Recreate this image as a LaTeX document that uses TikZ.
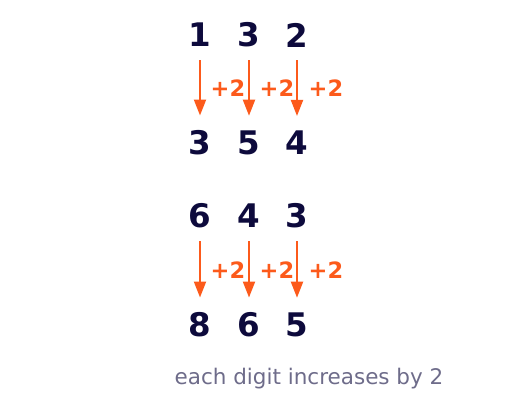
\documentclass[tikz,border=0pt]{standalone}
\usepackage{fontspec}
\setmainfont{DejaVu Sans}
\usetikzlibrary{arrows.meta}
\definecolor{navy}{HTML}{0D0A3C}
\definecolor{orng}{HTML}{FC5A1B}
\definecolor{capgray}{HTML}{6E6C8A}
\begin{document}
\begin{tikzpicture}[x=1pt,y=-1pt,
  digit/.style={inner sep=0pt,font=\fontsize{32.5}{32.5}\selectfont\bfseries,text=navy},
  plus/.style={inner sep=0pt,font=\fontsize{22.5}{22.5}\selectfont\bfseries,text=orng},
  incr/.style={draw=orng,line width=2pt,-{Triangle[length=16pt,width=12pt]},shorten <=13pt,shorten >=15pt},
  caption/.style={inner sep=0pt,font=\fontsize{21.5}{21.5}\selectfont,text=capgray}]
\useasboundingbox (0,0) rectangle (520,412);
% group 1
\node[digit] (a1) at (200,35) {1};
\node[digit] (a2) at (249,35) {3};
\node[digit] (a3) at (297,35) {2};
\node[digit] (b1) at (200,143) {3};
\node[digit] (b2) at (249,143) {5};
\node[digit] (b3) at (297,143) {4};
\draw[incr] (a1) -- (b1);
\draw[incr] (a2) -- (b2);
\draw[incr] (a3) -- (b3);
\node[plus] (p1) at (228,88) {+2};
\node[plus] (p2) at (277,88) {+2};
\node[plus] (p3) at (326,88) {+2};
% group 2
\node[digit] (c1) at (200,216) {6};
\node[digit] (c2) at (249,216) {4};
\node[digit] (c3) at (297,216) {3};
\node[digit] (d1) at (200,325) {8};
\node[digit] (d2) at (249,325) {6};
\node[digit] (d3) at (297,325) {5};
\draw[incr] (c1) -- (d1);
\draw[incr] (c2) -- (d2);
\draw[incr] (c3) -- (d3);
\node[plus] (q1) at (228,270) {+2};
\node[plus] (q2) at (277,270) {+2};
\node[plus] (q3) at (326,270) {+2};
\node[caption] (cap) at (309,379) {each digit increases by 2};
\end{tikzpicture}
\end{document}
